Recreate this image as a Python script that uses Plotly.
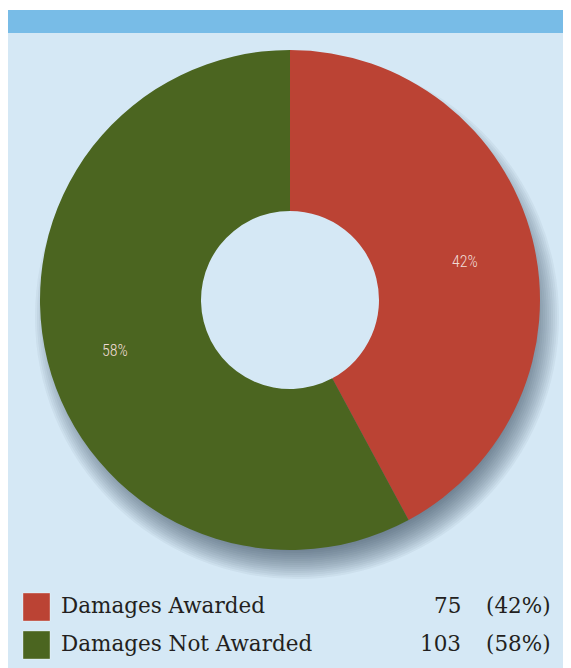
import math
import plotly.graph_objects as go

# ---- data ----
categories = ["Damages Awarded", "Damages Not Awarded"]
counts = [75, 103]
colors = ["#bb4334", "#4b6520"]

# page has an 8px body margin; figure placed at (8, 8)
OFF = 8
W, H = 571 - OFF, 668 - OFF

def px(x):
    return (x - OFF) / W

def py(y):
    return 1 - (y - OFF) / H

total = sum(counts)

fig = go.Figure()

# pie geometry (screen pixels)
cx, cy, R = 290, 300, 250
r_hole = 89

fig.add_trace(go.Pie(
    labels=categories,
    values=counts,
    marker=dict(colors=colors, line=dict(width=0)),
    hole=r_hole / R,
    sort=False,
    direction="clockwise",
    rotation=0,
    textinfo="none",
    domain=dict(x=[px(cx - R), px(cx + R)], y=[py(cy + R), py(cy - R)]),
    showlegend=False,
    hoverinfo="label+value+percent",
))

BG = "#d5e8f5"
shapes = []
# white strip above band
shapes.append(dict(type="rect", xref="paper", yref="paper", x0=0, x1=1, y0=py(10), y1=1,
                   fillcolor="white", line=dict(width=0), layer="below"))
# top band
shapes.append(dict(type="rect", xref="paper", yref="paper", x0=0, x1=1, y0=py(33), y1=py(10),
                   fillcolor="#78bce7", line=dict(width=0), layer="below"))
# soft drop shadow, offset to lower right
scx, scy = cx + 7, cy + 17
for k in range(18):
    r = R - 22 + k * 2.0
    shapes.append(dict(type="circle", xref="paper", yref="paper",
                       x0=px(scx - r), x1=px(scx + r), y0=py(scy + r), y1=py(scy - r),
                       fillcolor="rgba(35,55,75,0.05)", line=dict(width=0), layer="below"))
# hole filled with background colour
shapes.append(dict(type="circle", xref="paper", yref="paper",
                   x0=px(cx - r_hole - 1), x1=px(cx + r_hole + 1),
                   y0=py(cy + r_hole + 1), y1=py(cy - r_hole - 1),
                   fillcolor=BG, line=dict(width=0), layer="below"))

annotations = []

# percentage labels on slices, placed at slice mid-angles
cum = 0
r_lab = 180
for n in counts:
    mid = (cum + n / 2) / total * 2 * math.pi
    cum += n
    lx = cx + r_lab * math.sin(mid)
    ly = cy - r_lab * math.cos(mid) + 6
    annotations.append(dict(x=px(lx), y=py(ly), xref="paper", yref="paper",
                            text=f"{round(100 * n / total)}%", showarrow=False,
                            xanchor="center", yanchor="middle",
                            font=dict(family="Liberation Sans Narrow, Roboto Condensed, Roboto, sans-serif",
                                      size=16, color="#f0dcd6", weight=300)))

row_y = [605, 643]
legend_font = dict(family="DejaVu Serif, serif", size=21.5, color="#231f20")
for i, (cat, n, col) in enumerate(zip(categories, counts, colors)):
    yc = row_y[i]
    shapes.append(dict(type="rect", xref="paper", yref="paper",
                       x0=px(23), x1=px(50), y0=py(yc + 16), y1=py(yc - 12),
                       fillcolor=col, line=dict(width=1, color="rgba(255,255,255,0.35)")))
    annotations.append(dict(x=px(59), y=py(yc), xref="paper", yref="paper", text=cat,
                            showarrow=False, xanchor="left", yanchor="middle", font=legend_font))
    annotations.append(dict(x=px(463), y=py(yc), xref="paper", yref="paper", text=str(n),
                            showarrow=False, xanchor="right", yanchor="middle", font=legend_font))
    pct = round(100 * n / total)
    annotations.append(dict(x=px(553), y=py(yc), xref="paper", yref="paper", text=f"({pct}%)",
                            showarrow=False, xanchor="right", yanchor="middle", font=legend_font))

fig.update_layout(
    width=W, height=H,
    margin=dict(l=0, r=0, t=0, b=0),
    paper_bgcolor=BG,
    plot_bgcolor="rgba(0,0,0,0)",
    shapes=shapes,
    annotations=annotations,
    showlegend=False,
)

fig.write_html("out.html")
